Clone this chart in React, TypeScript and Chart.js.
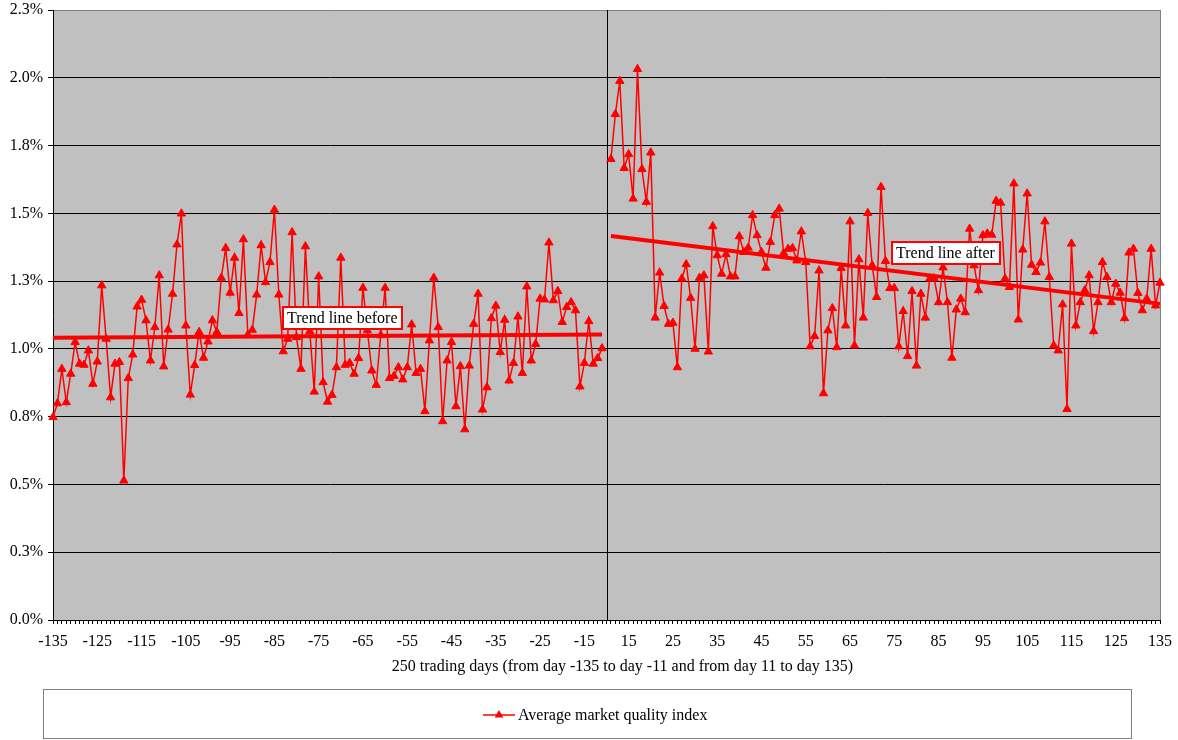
import { useEffect, useRef } from "react";
import { Chart, registerables } from "chart.js";

Chart.register(...registerables);

// ---------- categories ----------
const BEFORE_START = -135;
const AFTER_START = 11;
const beforeDays: string[] = Array.from({ length: 125 }, (_, i) => String(BEFORE_START + i));
const afterDays: string[] = Array.from({ length: 125 }, (_, i) => String(AFTER_START + i));
const GAP_LABEL = "";
const categories: string[] = [...beforeDays, GAP_LABEL, ...afterDays];
const GAP_INDEX = beforeDays.length;

// ---------- series values (percent) ----------
const beforeValues: number[] = [
  0.748, 0.799, 0.926, 0.803, 0.908, 1.025, 0.945, 0.941, 0.994, 0.871,
  0.953, 1.234, 1.037, 0.821, 0.945, 0.951, 0.514, 0.892, 0.979, 1.156,
  1.181, 1.105, 0.957, 1.08, 1.271, 0.935, 1.071, 1.203, 1.385, 1.499,
  1.086, 0.831, 0.94, 1.062, 0.967, 1.027, 1.105, 1.062, 1.262, 1.372,
  1.207, 1.336, 1.132, 1.404, 1.052, 1.07, 1.2, 1.382, 1.246, 1.32,
  1.513, 1.2, 0.991, 1.037, 1.43, 1.043, 0.926, 1.378, 1.065, 0.842,
  1.267, 0.877, 0.805, 0.83, 0.932, 1.336, 0.941, 0.948, 0.908, 0.966,
  1.225, 1.068, 0.92, 0.867, 1.05, 1.225, 0.892, 0.9, 0.932, 0.887,
  0.932, 1.09, 0.911, 0.926, 0.77, 1.031, 1.262, 1.08, 0.733, 0.957,
  1.025, 0.788, 0.936, 0.703, 0.938, 1.092, 1.203, 0.776, 0.858, 1.113,
  1.159, 0.988, 1.107, 0.883, 0.948, 1.119, 0.911, 1.23, 0.957, 1.018,
  1.185, 1.182, 1.392, 1.179, 1.213, 1.099, 1.154, 1.172, 1.142, 0.861,
  0.948, 1.102, 0.945, 0.966, 1.002,
];

const afterValues: number[] = [
  1.7, 1.866, 1.988, 1.667, 1.718, 1.554, 2.032, 1.663, 1.542, 1.724,
  1.115, 1.281, 1.158, 1.092, 1.096, 0.932, 1.259, 1.312, 1.188, 1.0,
  1.262, 1.271, 0.99, 1.452, 1.345, 1.277, 1.349, 1.267, 1.267, 1.415,
  1.357, 1.373, 1.493, 1.419, 1.357, 1.299, 1.394, 1.493, 1.517, 1.353,
  1.369, 1.372, 1.326, 1.433, 1.32, 1.009, 1.047, 1.289, 0.836, 1.068,
  1.15, 1.006, 1.298, 1.086, 1.47, 1.012, 1.33, 1.115, 1.501, 1.308,
  1.191, 1.597, 1.324, 1.224, 1.224, 1.009, 1.139, 0.973, 1.213, 0.938,
  1.203, 1.115, 1.259, 1.26, 1.172, 1.3, 1.172, 0.967, 1.145, 1.185,
  1.135, 1.443, 1.308, 1.216, 1.419, 1.425, 1.421, 1.546, 1.539, 1.259,
  1.228, 1.61, 1.108, 1.366, 1.573, 1.31, 1.283, 1.318, 1.47, 1.265,
  1.012, 0.994, 1.164, 0.778, 1.388, 1.086, 1.172, 1.216, 1.271, 1.065,
  1.172, 1.32, 1.265, 1.172, 1.24, 1.207, 1.113, 1.355, 1.369, 1.206,
  1.142, 1.185, 1.369, 1.16, 1.244,
];

// ---------- trend lines (endpoint values, percent) ----------
const trendBefore: number[] = [1.041, 1.053];
const trendAfter: number[] = [1.416, 1.166];

// ---------- axis ----------
const Y_TICKS_MIN = 0;
const Y_TICKS_MAX = 2.25;
const Y_STEP = 0.25;
const X_LABEL_EVERY = 10;

const SERIES_LABEL = "Average market quality index";
const X_TITLE = "250 trading days (from day -135 to day -11 and from day 11 to day 135)";

// annotation anchors (category index, value)
const TREND_NOTES = [
  { text: "Trend line before", index: 52, value: 1.155 },
  { text: "Trend line after", index: 189.5, value: 1.394 },
];

const FONT = "'Liberation Serif', 'Times New Roman', serif";
const RED = "#FF0000";

const seriesData: (number | null)[] = [...beforeValues, null, ...afterValues];

const decorPlugin = {
  id: "decor",
  beforeDraw(chart: any) {
    const { ctx, chartArea: a } = chart;
    ctx.save();
    ctx.fillStyle = "#FFFFFF";
    ctx.fillRect(0, 0, chart.width, chart.height);
    ctx.fillStyle = "#C0C0C0";
    ctx.fillRect(a.left, a.top, a.right - a.left, a.bottom - a.top);
    ctx.restore();
  },
  beforeDatasetsDraw(chart: any) {
    const { ctx, chartArea: a } = chart;
    const x = chart.scales.x;
    ctx.save();
    ctx.lineWidth = 1;
    ctx.strokeStyle = "#808080";
    const rx = Math.round(a.right) + 0.5;
    ctx.beginPath();
    ctx.moveTo(rx, a.top);
    ctx.lineTo(rx, a.bottom);
    ctx.stroke();
    const dx = Math.round(x.getPixelForValue(GAP_INDEX)) + 0.5;
    ctx.strokeStyle = "#000000";
    ctx.beginPath();
    ctx.moveTo(dx, a.top);
    ctx.lineTo(dx, a.bottom);
    ctx.stroke();
    ctx.restore();
  },
  afterDatasetsDraw(chart: any) {
    const { ctx } = chart;
    const x = chart.scales.x;
    const y = chart.scales.y;
    ctx.save();
    ctx.font = `16px ${FONT}`;
    for (const n of TREND_NOTES) {
      const left = Math.round(x.getPixelForValue(n.index));
      const top = Math.round(y.getPixelForValue(n.value));
      const w = Math.round(ctx.measureText(n.text).width) + 9;
      const h = 22;
      ctx.fillStyle = "#FFFFFF";
      ctx.fillRect(left, top, w, h);
      ctx.strokeStyle = RED;
      ctx.lineWidth = 2;
      ctx.strokeRect(left, top, w, h);
      ctx.fillStyle = "#000000";
      ctx.textBaseline = "alphabetic";
      ctx.textAlign = "left";
      ctx.fillText(n.text, left + 4, top + 16);
    }
    ctx.restore();
  },
  afterDraw(chart: any) {
    const { ctx, chartArea: a } = chart;
    ctx.save();
    // x-axis title
    ctx.fillStyle = "#000000";
    ctx.font = `16px ${FONT}`;
    ctx.textBaseline = "middle";
    ctx.textAlign = "center";
    ctx.fillText(X_TITLE, (a.left + a.right) / 2 + 16, 667);
    // legend box
    ctx.strokeStyle = "#808080";
    ctx.lineWidth = 1;
    ctx.strokeRect(43.5, 689.5, 1088, 49);
    const cy = 715;
    ctx.strokeStyle = RED;
    ctx.lineWidth = 1.5;
    ctx.beginPath();
    ctx.moveTo(483, cy);
    ctx.lineTo(515, cy);
    ctx.stroke();
    const r = 5;
    const cx = 499;
    ctx.fillStyle = RED;
    ctx.beginPath();
    ctx.moveTo(cx, cy - r);
    ctx.lineTo(cx + r * Math.sin((2 * Math.PI) / 3), cy - r * Math.cos((2 * Math.PI) / 3));
    ctx.lineTo(cx + r * Math.sin((4 * Math.PI) / 3), cy - r * Math.cos((4 * Math.PI) / 3));
    ctx.closePath();
    ctx.fill();
    ctx.fillStyle = "#000000";
    ctx.textAlign = "left";
    ctx.fillText(SERIES_LABEL, 518, cy + 0.5);
    ctx.restore();
  },
};

export default function App() {
  const ref = useRef<HTMLCanvasElement | null>(null);

  useEffect(() => {
    if (!ref.current) return;
    const chart = new Chart(ref.current, {
      type: "line",
      data: {
        labels: categories,
        datasets: [
          {
            label: "Trend line before",
            data: [
              { x: beforeDays[0], y: trendBefore[0] },
              { x: beforeDays[beforeDays.length - 1], y: trendBefore[1] },
            ] as any,
            borderColor: RED,
            borderWidth: 4,
            pointRadius: 0,
            tension: 0,
            order: 0,
          },
          {
            label: "Trend line after",
            data: [
              { x: afterDays[0], y: trendAfter[0] },
              { x: afterDays[afterDays.length - 1], y: trendAfter[1] },
            ] as any,
            borderColor: RED,
            borderWidth: 4,
            pointRadius: 0,
            tension: 0,
            order: 0,
          },
          {
            label: SERIES_LABEL,
            data: seriesData,
            borderColor: RED,
            backgroundColor: RED,
            borderWidth: 1.5,
            pointStyle: "triangle",
            pointRadius: 4.8,
            pointBorderWidth: 1,
            pointBackgroundColor: RED,
            pointBorderColor: RED,
            tension: 0,
            spanGaps: false,
            order: 1,
          },
        ],
      },
      options: {
        animation: false,
        responsive: false,
        maintainAspectRatio: false,
        layout: { padding: { left: 0, top: 10, right: 18, bottom: 60 } },
        plugins: {
          legend: { display: false },
          tooltip: { enabled: false },
        },
        scales: {
          x: {
            type: "category",
            offset: false,
            afterFit: (s: any) => {
              s.height = 60;
              s.paddingLeft = 0;
              s.paddingRight = 0;
            },
            border: { display: true, color: "#000000", width: 1 },
            grid: {
              drawOnChartArea: false,
              drawTicks: true,
              tickLength: 4,
              color: "#000000",
            },
            ticks: {
              autoSkip: false,
              maxRotation: 0,
              minRotation: 0,
              padding: 8,
              color: "#000000",
              font: { family: FONT, size: 16 },
              callback: (_v: any, i: number) => (i % X_LABEL_EVERY === 0 ? categories[i] : ""),
            },
            title: { display: false },
          },
          y: {
            min: Y_TICKS_MIN,
            max: Y_TICKS_MAX,
            afterFit: (s: any) => {
              s.width = 53;
              s.paddingTop = 0;
              s.paddingBottom = 0;
            },
            border: { display: true, color: "#000000", width: 1 },
            grid: {
              color: (c: any) => (c.tick && c.tick.value >= Y_TICKS_MAX - 1e-6 ? "#808080" : "#000000"),
              tickColor: "#000000",
              tickLength: 5,
              lineWidth: 1,
            },
            ticks: {
              stepSize: Y_STEP,
              padding: 5,
              color: "#000000",
              font: { family: FONT, size: 16 },
              callback: (v: any) => Number(v).toFixed(1) + "%",
            },
          },
        },
      },
      plugins: [decorPlugin],
    });
    return () => chart.destroy();
  }, []);

  return (
    <div style={{ position: "absolute", left: 0, top: 0, width: 1178, height: 740, background: "#fff" }}>
      <canvas ref={ref} width={1178} height={740} style={{ display: "block" }} />
    </div>
  );
}
